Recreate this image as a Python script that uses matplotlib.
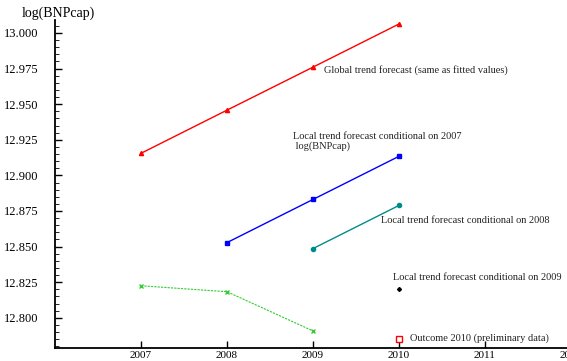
import matplotlib.pyplot as plt
from matplotlib.ticker import MultipleLocator, FormatStrFormatter

plt.rcParams['font.family'] = ['Liberation Serif', 'DejaVu Serif']

# log(BNPcap) forecasts
years_global = [2007, 2008, 2009, 2010]
global_trend = [12.9155, 12.9458, 12.9760, 13.0063]

years_local07 = [2008, 2009, 2010]
local_2007 = [12.8528, 12.8831, 12.9134]

years_local08 = [2009, 2010]
local_2008 = [12.8486, 12.8789]

years_local09 = [2010]
local_2009 = [12.8204]

years_actual = [2007, 2008, 2009]
actual = [12.8225, 12.8183, 12.7908]

years_outcome = [2010]
outcome = [12.7852]

xticks = [2007, 2008, 2009, 2010, 2011, 2012]

fig = plt.figure(figsize=(5.67, 3.61), dpi=100)
ax = fig.add_axes([0.097, 0.036, 0.910, 0.909])

ax.plot(years_global, global_trend, color='red', lw=1, marker='^', ms=3)
ax.plot(years_local07, local_2007, color='blue', lw=1, marker='s', ms=3.5)
ax.plot(years_local08, local_2008, color='#008b8b', lw=1, marker='o', ms=3)
ax.plot(years_local09, local_2009, color='black', lw=0, marker='D', ms=2)
ax.plot(years_actual, actual, color='#33cc33', lw=0.8, ls=(0, (2, 1)),
        marker='x', ms=3, mew=1)
ax.plot(years_outcome, outcome, color='red', lw=0, marker='s', ms=4,
        mfc='white', mew=1)

fs = 7.5
ax.text(2009.128, 12.974, 'Global trend forecast (same as fitted values)',
        fontsize=fs, va='center', color='#222222')
ax.text(2008.767, 12.924, 'Local trend forecast conditional on 2007\n log(BNPcap)',
        fontsize=fs, va='center', color='#222222', linespacing=1.0)
ax.text(2009.791, 12.8683, 'Local trend forecast conditional on 2008',
        fontsize=fs, va='center', color='#222222')
ax.text(2009.930, 12.8282, 'Local trend forecast conditional on 2009',
        fontsize=fs, va='center', color='#222222')
ax.text(2010.128, 12.7859, 'Outcome 2010 (preliminary data)',
        fontsize=fs, va='center', color='#222222')

fig.text(0.103, 0.962, 'log(BNPcap)', fontsize=10, ha='center', va='center')

ax.set_xlim(2006, 2012)
ax.set_ylim(12.7788, 13.0092)
ax.set_xticks(xticks)
ax.yaxis.set_major_locator(MultipleLocator(0.025))
ax.yaxis.set_minor_locator(MultipleLocator(0.005))
ax.yaxis.set_major_formatter(FormatStrFormatter('%.3f'))

for s in ['top', 'right']:
    ax.spines[s].set_visible(False)
for s in ['left', 'bottom']:
    ax.spines[s].set_linewidth(1.3)

ax.tick_params(axis='both', direction='in', width=1)
ax.tick_params(axis='y', which='major', length=5, labelsize=9, pad=12)
ax.tick_params(axis='y', which='minor', length=3, direction='in')
ax.tick_params(axis='x', length=5, pad=2, labelsize=8)

fig.savefig('out.png', dpi=100)
